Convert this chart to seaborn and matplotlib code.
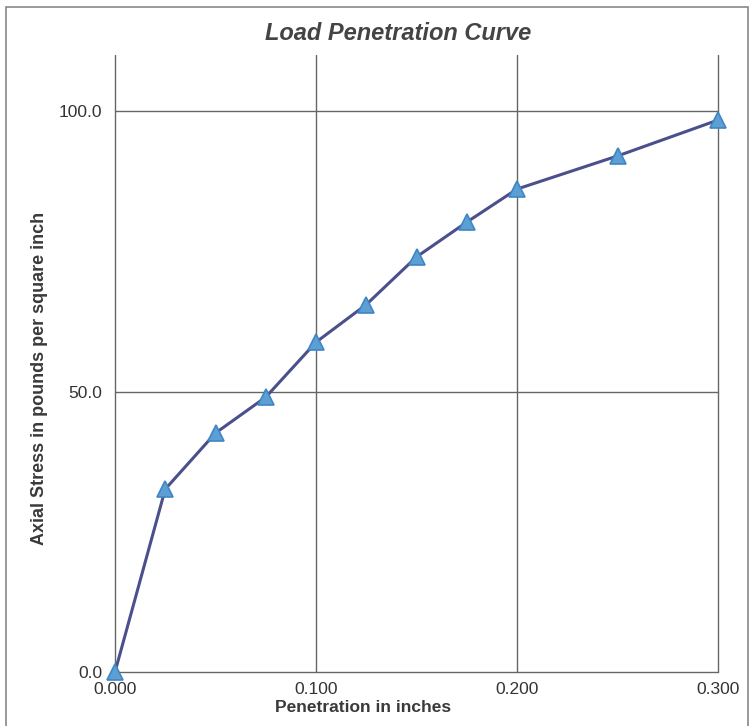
import pandas as pd
import matplotlib.pyplot as plt
from matplotlib.patches import Rectangle
import seaborn as sns

# values
penetration = [0.000, 0.025, 0.050, 0.075, 0.100, 0.125, 0.150, 0.175, 0.200, 0.250, 0.300]
stress = [0.0, 32.6, 42.6, 49.0, 58.8, 65.5, 74.0, 80.2, 86.1, 92.0, 98.4]
x_ticks = [0.0, 0.1, 0.2, 0.3]
x_labels = ['0.000', '0.100', '0.200', '0.300']
y_ticks = [0, 50, 100]
y_labels = ['0.0', '50.0', '100.0']

df = pd.DataFrame({'Penetration': penetration, 'Stress': stress})

sns.set_style('white')
plt.rcParams['font.family'] = ['Liberation Sans', 'DejaVu Sans']

fig = plt.figure(figsize=(7.54, 7.26), dpi=100)
ax = fig.add_axes([115 / 754, 1 - 672 / 726, 603 / 754, 617 / 726])

sns.lineplot(data=df, x='Penetration', y='Stress', ax=ax, color='#4b4f8c', linewidth=2.2,
             marker='^', markersize=11, markerfacecolor='#5b9fd4', markeredgecolor='#3f86c2',
             markeredgewidth=1.2, clip_on=False, zorder=3)

ax.set_xlim(0, 0.3)
ax.set_ylim(0, 110)
ax.set_xticks(x_ticks)
ax.set_xticklabels(x_labels)
ax.set_yticks(y_ticks)
ax.set_yticklabels(y_labels)
ax.grid(True, color='#666666', linewidth=1.0)
ax.set_axisbelow(True)
# keep the edge grid lines at full width
for gl in ax.get_xgridlines() + ax.get_ygridlines():
    gl.set_clip_on(False)
for s in ax.spines.values():
    s.set_visible(False)
ax.tick_params(axis='y', length=5, color='#666666', labelsize=12.5, labelcolor='#333333', pad=4)
ax.tick_params(axis='x', length=0, labelsize=12.5, labelcolor='#333333', pad=7)

ax.set_xlabel('Penetration in inches', fontsize=12.5, fontweight='bold', color='#3a3a3a')
ax.xaxis.set_label_coords((363 - 115) / 603, -(708 - 672) / 617)
ax.xaxis.label.set_va('center')
ax.set_ylabel('Axial Stress in pounds per square inch', fontsize=13, fontweight='bold', color='#3a3a3a')
ax.yaxis.set_label_coords(-(115 - 40) / 603, (672 - 378) / 617)
ax.yaxis.label.set_va('center')

fig.text(398 / 754, 1 - 34 / 726, 'Load Penetration Curve', ha='center', va='center',
         fontsize=17, fontweight='bold', fontstyle='italic', color='#444444')

# outer frame around the figure
fig.patches.append(Rectangle((6 / 754, -0.05), 742 / 754, 1.05 - 7 / 726, transform=fig.transFigure,
                             fill=False, edgecolor='#888888', linewidth=1.2))

plt.savefig('out.png', dpi=100)
